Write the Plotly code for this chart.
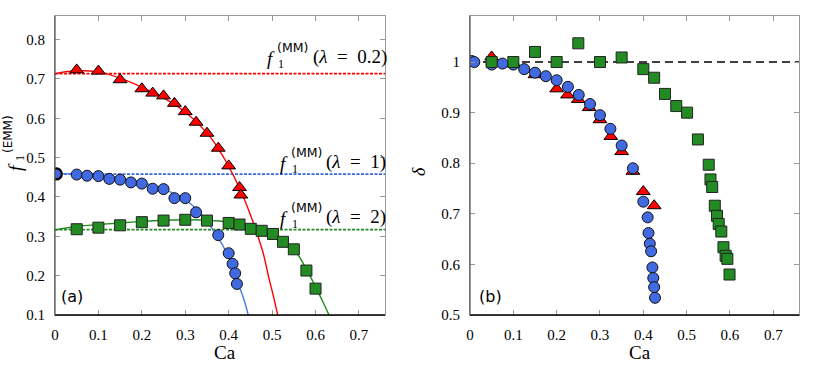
import plotly.graph_objects as go

# ---------------- data: panel (a) ----------------
ca_tri_a = [0.05, 0.1, 0.15, 0.2, 0.225, 0.25, 0.275, 0.3, 0.325, 0.35, 0.376, 0.4, 0.425, 0.428]
f_tri_a = [0.723, 0.720, 0.698, 0.675, 0.664, 0.657, 0.638, 0.617, 0.590, 0.562, 0.524, 0.479, 0.424, 0.405]

ca_cir_a = [0.003, 0.05, 0.074, 0.1, 0.125, 0.15, 0.175, 0.2, 0.225, 0.25, 0.275, 0.3, 0.325, 0.376, 0.4, 0.409, 0.415, 0.419]
f_cir_a = [0.4585, 0.457, 0.454, 0.453, 0.446, 0.444, 0.437, 0.434, 0.421, 0.420, 0.397, 0.397, 0.361, 0.303, 0.257, 0.230, 0.206, 0.179]

ca_sq_a = [0.05, 0.1, 0.15, 0.2, 0.25, 0.3, 0.35, 0.4, 0.425, 0.451, 0.476, 0.502, 0.525, 0.55, 0.579, 0.6]
f_sq_a = [0.318, 0.322, 0.328, 0.336, 0.340, 0.342, 0.340, 0.334, 0.330, 0.319, 0.314, 0.306, 0.286, 0.267, 0.213, 0.167]

# fitted curves
ca_fit_red = [0, 0.03, 0.07, 0.1, 0.15, 0.2, 0.25, 0.3, 0.35, 0.375, 0.4, 0.425, 0.45, 0.465, 0.48, 0.492, 0.503, 0.513]
f_fit_red = [0.713, 0.719, 0.721, 0.718, 0.702, 0.679, 0.652, 0.616, 0.563, 0.525, 0.478, 0.422, 0.355, 0.308, 0.255, 0.197, 0.148, 0.1]
ca_fit_blue = [0, 0.05, 0.1, 0.15, 0.2, 0.25, 0.3, 0.325, 0.35, 0.375, 0.4, 0.42, 0.435, 0.445]
f_fit_blue = [0.46, 0.458, 0.455, 0.448, 0.437, 0.42, 0.393, 0.37, 0.338, 0.298, 0.247, 0.185, 0.14, 0.1]
ca_fit_green = [0, 0.05, 0.1, 0.15, 0.2, 0.25, 0.3, 0.35, 0.4, 0.45, 0.5, 0.525, 0.55, 0.575, 0.6, 0.615, 0.631]
f_fit_green = [0.316, 0.325, 0.33, 0.334, 0.338, 0.341, 0.342, 0.341, 0.336, 0.324, 0.305, 0.29, 0.268, 0.225, 0.172, 0.138, 0.1]

# f1^(MM) levels
mm_red = 0.7135
mm_blue = 0.458
mm_green = 0.317
ca_span = [0, 0.76]

# ---------------- data: panel (b) ----------------
ca_tri_b = [0.05, 0.1, 0.15, 0.2, 0.225, 0.25, 0.275, 0.3, 0.325, 0.35, 0.376, 0.4, 0.425]
d_tri_b = [1.01, 0.997, 0.975, 0.947, 0.935, 0.926, 0.910, 0.886, 0.853, 0.823, 0.784, 0.744, 0.716]

ca_cir_b = [0.004, 0.01, 0.05, 0.075, 0.1, 0.125, 0.15, 0.175, 0.2, 0.226, 0.251, 0.277, 0.3, 0.324, 0.35, 0.376,
            0.4, 0.41, 0.412, 0.415, 0.418, 0.421, 0.423, 0.425, 0.427]
d_cir_b = [1.002, 1.0, 0.995, 0.997, 0.995, 0.986, 0.979, 0.972, 0.964, 0.951, 0.935, 0.917, 0.895, 0.868, 0.835, 0.790,
           0.724, 0.693, 0.662, 0.641, 0.626, 0.594, 0.573, 0.555, 0.534]

ca_sq_b = [0.05, 0.1, 0.15, 0.2, 0.25, 0.3, 0.35, 0.4, 0.425, 0.45, 0.476, 0.501, 0.526, 0.551, 0.555, 0.559,
           0.565, 0.57, 0.574, 0.58, 0.585, 0.59, 0.594, 0.599]
d_sq_b = [1.0, 1.0, 1.020, 1.0, 1.037, 1.0, 1.009, 0.986, 0.969, 0.937, 0.913, 0.900, 0.847, 0.797, 0.768, 0.753,
          0.716, 0.696, 0.680, 0.665, 0.634, 0.617, 0.611, 0.580]

delta_ref = 1.0

# ticks
x_ticks = [0, 0.1, 0.2, 0.3, 0.4, 0.5, 0.6, 0.7]
x_ticktext = ["0", "0.1", "0.2", "0.3", "0.4", "0.5", "0.6", "0.7"]
ya_ticks = [0.1, 0.2, 0.3, 0.4, 0.5, 0.6, 0.7, 0.8]
ya_ticktext = ["0.1", "0.2", "0.3", "0.4", "0.5", "0.6", "0.7", "0.8"]
yb_ticks = [0.5, 0.6, 0.7, 0.8, 0.9, 1.0]
yb_ticktext = ["0.5", "0.6", "0.7", "0.8", "0.9", "1"]

RED = "#ff0000"
BLUE = "#4169e1"
GREEN = "#228b22"
SERIF = "Liberation Serif"
SANS = "DejaVu Sans"

W, H = 830, 378

fig = go.Figure()

# ---- panel (a)
for lvl, col in [(mm_red, RED), (mm_blue, "#3a66dd"), (mm_green, GREEN)]:
    fig.add_trace(go.Scatter(x=ca_span, y=[lvl, lvl], mode="lines", xaxis="x", yaxis="y",
                             line=dict(color=col, width=1.6, dash="3px,1.5px"), hoverinfo="skip"))
fig.add_trace(go.Scatter(x=ca_fit_red, y=f_fit_red, mode="lines", line=dict(color=RED, width=1.4, shape="spline"),
                         xaxis="x", yaxis="y"))
fig.add_trace(go.Scatter(x=ca_fit_blue, y=f_fit_blue, mode="lines", line=dict(color="#4d78dc", width=1.4, shape="spline"),
                         xaxis="x", yaxis="y"))
fig.add_trace(go.Scatter(x=ca_fit_green, y=f_fit_green, mode="lines", line=dict(color=GREEN, width=1.4, shape="spline"),
                         xaxis="x", yaxis="y"))
fig.add_trace(go.Scatter(x=ca_tri_a, y=f_tri_a, mode="markers", xaxis="x", yaxis="y",
                         marker=dict(symbol="triangle-up", size=12, color=RED, line=dict(color="black", width=1))))
fig.add_trace(go.Scatter(x=ca_cir_a, y=f_cir_a, mode="markers", xaxis="x", yaxis="y",
                         marker=dict(symbol="circle", size=11, color=BLUE, line=dict(color="#111", width=1))))
fig.add_trace(go.Scatter(x=ca_cir_a[:1], y=f_cir_a[:1], mode="markers", xaxis="x", yaxis="y",
                         marker=dict(symbol="circle-open", size=11, color="black", line=dict(color="black", width=2.2))))
fig.add_trace(go.Scatter(x=ca_sq_a, y=f_sq_a, mode="markers", xaxis="x", yaxis="y",
                         marker=dict(symbol="square", size=11, color=GREEN, line=dict(color="#222", width=1))))

# ---- panel (b)
fig.add_trace(go.Scatter(x=ca_span, y=[delta_ref, delta_ref], mode="lines", xaxis="x2", yaxis="y2",
                         line=dict(color="black", width=1.5, dash="8px,5px")))
fig.add_trace(go.Scatter(x=ca_tri_b, y=d_tri_b, mode="markers", xaxis="x2", yaxis="y2",
                         marker=dict(symbol="triangle-up", size=12, color=RED, line=dict(color="black", width=1))))
fig.add_trace(go.Scatter(x=ca_cir_b, y=d_cir_b, mode="markers", xaxis="x2", yaxis="y2",
                         marker=dict(symbol="circle", size=11, color=BLUE, line=dict(color="#111", width=1))))
fig.add_trace(go.Scatter(x=ca_sq_b, y=d_sq_b, mode="markers", xaxis="x2", yaxis="y2",
                         marker=dict(symbol="square", size=11, color=GREEN, line=dict(color="#222", width=1))))


def px_x(X):
    return X / W


def px_y(Y):
    return 1 - Y / H


axis_common = dict(showline=True, linecolor="#9a9a9a", linewidth=1, mirror="ticks", ticks="inside", ticklen=5,
                   tickcolor="#9a9a9a", tickwidth=1, showgrid=False, zeroline=False, automargin=False,
                   tickfont=dict(family=SERIF, size=15, color="black"), ticklabelstandoff=6)

ydom = [px_y(315), px_y(16)]
fig.update_layout(
    width=W, height=H, margin=dict(l=0, r=0, t=0, b=0),
    paper_bgcolor="white", plot_bgcolor="white", showlegend=False,
    xaxis=dict(domain=[px_x(55), px_x(385)], range=[0, 0.76], tickvals=x_ticks, ticktext=x_ticktext,
               anchor="y", **axis_common),
    yaxis=dict(domain=ydom, range=[0.1, 0.86], tickvals=ya_ticks, ticktext=ya_ticktext, anchor="x", **axis_common),
    xaxis2=dict(domain=[px_x(470), px_x(799.3)], range=[0, 0.76], tickvals=x_ticks, ticktext=x_ticktext,
                anchor="y2", **axis_common),
    yaxis2=dict(domain=ydom, range=[0.5, 1.091], tickvals=yb_ticks, ticktext=yb_ticktext, anchor="x2", **axis_common),
)

shapes = []
for xa, ya in [("x", "y"), ("x2", "y2")]:
    shapes.append(dict(type="line", xref=f"{xa} domain", yref=f"{ya} domain", x0=0, x1=1, y0=0, y1=0,
                       line=dict(color="black", width=1.3), layer="above"))
    shapes.append(dict(type="line", xref=f"{xa} domain", yref=f"{ya} domain", x0=0, x1=0, y0=0, y1=1,
                       line=dict(color="#555", width=1.2), layer="above"))
fig.update_layout(shapes=shapes)

ann = []


def add_text(x, y, text, size, family=SERIF, xref="paper", yref="paper", xanchor="center", yanchor="middle",
             angle=0, yshift=0):
    ann.append(dict(x=x, y=y, xref=xref, yref=yref, text=text, showarrow=False, xanchor=xanchor, yanchor=yanchor,
                    textangle=angle, yshift=yshift, font=dict(family=family, size=size, color="black")))


# axis titles
add_text(px_x(225), px_y(352), "Ca", 19)
add_text(px_x(640), px_y(352), "Ca", 19)
add_text(px_x(419), px_y(172), "<i>δ</i>", 18, angle=-90)
# f_1^(EMM) as stacked pieces, rotated
add_text(px_x(15), px_y(167), "<i>f</i>", 19, angle=-90)
add_text(px_x(20), px_y(158), "1", 12, angle=-90)
add_text(px_x(8), px_y(134), "(EMM)", 12, family=SANS, angle=-90)

# panel labels
add_text(px_x(71.5), px_y(296.5), "(a)", 16, family=SANS)
add_text(px_x(490), px_y(296), "(b)", 16, family=SANS)

# f1^(MM)(lambda) labels in data coords of panel (a)
labels = [("0.2", 0.741, 265, 275, 311), ("1", 0.474, 278, 289, 324), ("2", 0.334, 278, 289, 324)]
for lam, base, xf, xs, xp in labels:
    cx = lambda X: (X - 55) / 434 * 0.76 / (330 / 434)
    add_text(cx(xf), base, "<i>f</i>", 19, xref="x", yref="y", xanchor="left", yshift=4)
    add_text(cx(xs + 1), base, "1", 12, xref="x", yref="y", xanchor="left", yshift=-1)
    add_text(cx(xs), base, "(MM)", 12.5, family=SANS, xref="x", yref="y", xanchor="left", yshift=15)
    add_text(cx(xp), base, f"(<i>λ</i>\u2002=\u2002{lam})", 19, xref="x", yref="y", xanchor="left", yshift=6)

fig.update_layout(annotations=ann)
fig.write_html("out.html", post_script="document.body.style.margin='0';", config={"displayModeBar": False})
